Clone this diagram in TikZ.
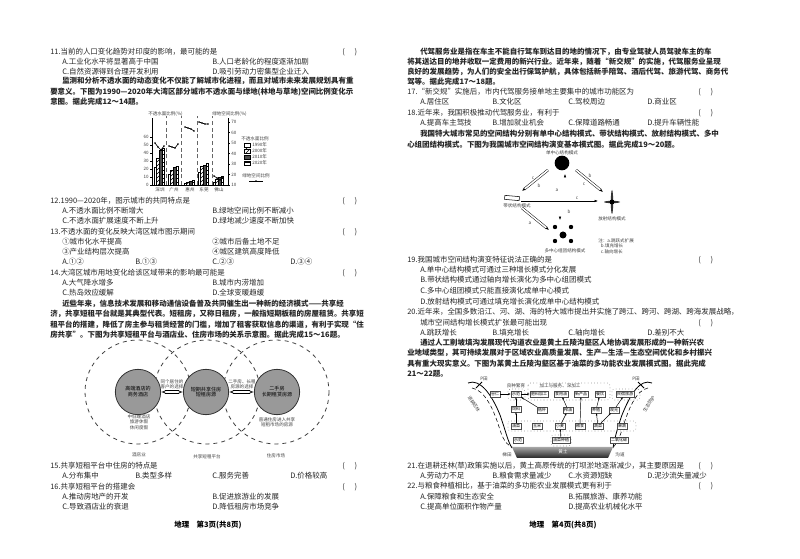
\documentclass[tikz,border=0pt]{standalone}
\usepackage{fontspec}
\newfontfamily\cjk{Noto Sans CJK SC}
\usetikzlibrary{patterns,arrows.meta,calc}
\tikzset{
 tx/.style={anchor=west,inner sep=0pt,font=\cjk\fontsize{5.6}{7}\selectfont,text=black!85},
 ps/.style={tx,font=\cjk\bfseries\fontsize{5.6}{7}\selectfont},
 sm/.style={inner sep=0pt,font=\cjk\fontsize{3.4}{4}\selectfont,text=black!75,align=center},
 ft/.style={inner sep=0pt,font=\cjk\bfseries\fontsize{5.6}{7}\selectfont},
 bx/.style={draw=black!70,line width=0.3pt,inner sep=0.7pt,font=\cjk\fontsize{3}{3.6}\selectfont,fill=white},
 grp/.style={draw=black!60,dotted,rounded corners=2pt,line width=0.4pt},
 vc/.style={draw=black!75,dashed,line width=0.6pt},
 gc/.style={draw=black!80,fill=black!40,line width=0.6pt},
 dar/.style={double,double distance=1.2pt,line width=0.35pt,-{Latex[length=2.5pt]}},
 yA/.style={fill=white}, yB/.style={pattern=north east lines}, yC/.style={fill=black!70}, yD/.style={pattern=horizontal lines},
}
\newcommand{\Ln}[3]{\node[tx] at (#1,#2) {#3};}
\newcommand{\Ps}[3]{\node[ps] at (#1,#2) {#3};}
\newcommand{\Pq}[2]{\node[tx] at (#1,#2) {(\hspace{1.3em})};}
\begin{document}
\begin{tikzpicture}[x=0.75pt,y=-0.75pt]
\useasboundingbox (0,0) rectangle (800,559);
\fill[white] (0,0) rectangle (800,559);
% ---------- left column ----------
\Ln{50}{52}{11.当前的人口变化趋势对印度的影响，最可能的是}\Pq{342}{52}
\Ln{62}{62}{A.工业化水平将显著高于中国}\Ln{212}{62}{B.人口老龄化的程度逐渐加剧}
\Ln{62}{72}{C.自然资源得到合理开发利用}\Ln{212}{72}{D.吸引劳动力密集型企业迁入}
\Ps{62}{81}{监测和分析不透水面的动态变化不仅能了解城市化进程，而且对城市未来发展规划具有重}
\Ps{50}{92}{要意义。下图为1990—2020年大湾区部分城市不透水面与绿地(林地与草地)空间比例变化示}
\Ps{50}{102}{意图。据此完成12～14题。}
% chart
\draw[line width=0.4pt] (152,185) -- (152,118);
\draw[line width=0.4pt] (228,185) -- (228,118);
\draw[line width=0.4pt] (152,185) -- (228,185);
\node[sm,anchor=east] at (183,114) {不透水面比例(\%)};
\node[sm,anchor=west] at (212,114) {绿地空间比例(\%)};
\foreach \v in {0,10,...,60}{
 \draw[line width=0.3pt] (152,{185-\v*0.8}) -- (150,{185-\v*0.8});
 \node[sm,anchor=east] at (149,{185-\v*0.8}) {\v};}
\foreach \v in {10,20,...,70}{
 \draw[line width=0.3pt] (228,{185-(\v-10)*1.05}) -- (230,{185-(\v-10)*1.05});
 \node[sm,anchor=west] at (231,{185-(\v-10)*1.05}) {\v};}
\foreach \x in {166,181,197,212}{\draw[densely dashed,line width=0.3pt,black!60] (\x,185) -- (\x,116);}
\foreach \gx/\a/\b/\c/\d/\nm in {154/22/33/44/46/深圳,168/14/18/22/24/广州,184/2/4/5/6/惠州,198/16/23/25/27/东莞,213/3/7/10/11/佛山}{
 \draw[line width=0.3pt,yA] (\gx,185) rectangle ++(2.6,{-\a*0.8});
 \draw[line width=0.3pt,yB] (\gx+2.6,185) rectangle ++(2.6,{-\b*0.8});
 \draw[line width=0.3pt,yC] (\gx+5.2,185) rectangle ++(2.6,{-\c*0.8});
 \draw[line width=0.3pt,yD] (\gx+7.8,185) rectangle ++(2.6,{-\d*0.8});
 \node[sm] at (\gx+6,190) {\nm};}
\foreach \gx/\p/\q/\r/\s in {154/143/147/150/146,168/146/147/148/144,184/127/128/129/131,198/122/123/124/124,213/176/178/180/177}{
 \draw[line width=0.5pt] (\gx+1,\p) -- (\gx+4,\q) -- (\gx+7,\r) -- (\gx+10,\s);
 \foreach \xx/\yy in {1/\p,4/\q,7/\r,10/\s}{\fill (\gx+\xx,\yy) circle (0.9);}}
\node[sm] at (255,139) {不透水面比例};
\foreach \yy/\lb/\st in {145/1990年/yA,151/2000年/yB,157/2010年/yC,163/2020年/yD}{
 \draw[line width=0.3pt,\st] (244,\yy-2) rectangle (250,\yy+2);
 \node[sm,anchor=west] at (252,\yy) {\lb};}
\node[sm] at (256,176) {绿地空间比例};
\draw[line width=0.5pt] (249,181) -- (263,181); \fill (256,181) circle (0.9);
\Ln{50}{201}{12.1990—2020年，图示城市的共同特点是}\Pq{342}{201}
\Ln{62}{211}{A.不透水面比例不断增大}\Ln{212}{211}{B.绿地空间比例不断减小}
\Ln{62}{221}{C.不透水面扩展速度不断上升}\Ln{212}{221}{D.绿地减少速度不断加快}
\Ln{50}{232}{13.不透水面的变化反映大湾区城市图示期间}\Pq{342}{232}
\Ln{62}{242}{①城市化水平提高}\Ln{212}{242}{②城市后备土地不足}
\Ln{62}{252}{③产业结构层次提高}\Ln{212}{252}{④城区建筑高度降低}
\Ln{62}{262}{A.①②}\Ln{135}{262}{B.①③}\Ln{212}{262}{C.②③}\Ln{290}{262}{D.③④}
\Ln{50}{273}{14.大湾区城市用地变化给该区域带来的影响最可能是}\Pq{342}{273}
\Ln{62}{283}{A.大气降水增多}\Ln{212}{283}{B.城市内涝增加}
\Ln{62}{293}{C.热岛效应缓解}\Ln{212}{293}{D.全球变暖趋缓}
\Ps{62}{304}{近些年来，信息技术发展和移动通信设备普及共同催生出一种新的经济模式——共享经}
\Ps{50}{314}{济，共享短租平台就是其典型代表。短租房，又称日租房，一般指短期板租的房屋租赁。共享短}
\Ps{50}{325}{租平台的搭建，降低了房主参与租赁经营的门槛，增加了租客获取信息的渠道，有利于实现“住}
\Ps{50}{335}{房共享”。下图为共享短租平台与酒店业、住房市场的关系示意图。据此完成15～16题。}
% venn
\draw[vc] (138,392) ellipse (53 and 52);
\draw[vc] (207,392) ellipse (53 and 52);
\draw[vc] (276,392) ellipse (53 and 52);
\node[gc,circle,minimum size=34,sm,font=\cjk\fontsize{3.8}{4.4}\selectfont,text=black] (g1) at (138,392) {高端酒店的\\商务酒店};
\node[gc,circle,minimum size=34,sm,font=\cjk\fontsize{3.8}{4.4}\selectfont,text=black] (g2) at (206,392) {短期共享住房\\短租房源};
\node[gc,circle,minimum size=34,sm,font=\cjk\fontsize{3.8}{4.4}\selectfont,text=black] (g3) at (277,392) {二手房\\长期租赁房源};
\draw[double,double distance=1.6pt,line width=0.4pt,{Latex[open,length=3pt]}-{Latex[open,length=3pt]}] (g1) -- (g2);
\draw[double,double distance=1.6pt,line width=0.4pt,{Latex[open,length=3pt]}-{Latex[open,length=3pt]}] (g2) -- (g3);
\node[sm] at (172,384) {同个居住的\\客户的选择};
\node[sm] at (242,384) {二手房、长租\\房源的选择};
\node[sm] at (139,422) {中低端酒店\\旅游休假\\休闲度假};
\node[sm] at (277,422) {普通住房进入共享\\短租市场的房源};
\node[sm] at (139,455) {酒店业};
\node[sm] at (207,457) {共享短租平台};
\node[sm] at (276,456) {住房市场};
\Ln{50}{466}{15.共享短租平台中住房的特点是}\Pq{342}{466}
\Ln{62}{476}{A.分布集中}\Ln{135}{476}{B.类型多样}\Ln{212}{476}{C.服务完善}\Ln{290}{476}{D.价格较高}
\Ln{50}{487}{16.共享短租平台的搭建会}\Pq{342}{487}
\Ln{62}{497}{A.推动房地产的开发}\Ln{212}{497}{B.促进旅游业的发展}
\Ln{62}{507}{C.导致酒店业的衰退}\Ln{212}{507}{D.降低租房市场竞争}
\node[ft] at (208,525) {地理\quad 第3页(共8页)};
% ---------- right column ----------
\Ps{420}{52}{代驾服务业是指在车主不能自行驾车到达目的地的情况下，由专业驾驶人员驾驶车主的车}
\Ps{407}{62}{将其送达目的地并收取一定费用的新兴行业。近年来，随着“新交规”的实施，代驾服务业呈现}
\Ps{407}{72}{良好的发展趋势，为人们的安全出行保驾护航，具体包括新手陪驾、酒后代驾、旅游代驾、商务代}
\Ps{407}{82}{驾等。据此完成17～18题。}
\Ln{407}{92}{17.“新交规”实施后，市内代驾服务接单地主要集中的城市功能区为}\Pq{698}{92}
\Ln{420}{102}{A.居住区}\Ln{492}{102}{B.文化区}\Ln{568}{102}{C.驾校周边}\Ln{647}{102}{D.商业区}
\Ln{407}{113}{18.近年来，我国积极推动代驾服务业，有利于}\Pq{698}{113}
\Ln{420}{123}{A.提高车主驾技}\Ln{492}{123}{B.增加就业机会}\Ln{568}{123}{C.保障道路畅通}\Ln{647}{123}{D.提升车辆性能}
\Ps{420}{134}{我国特大城市常见的空间结构分别有单中心结构模式、带状结构模式、放射结构模式、多中}
\Ps{407}{145}{心组团结构模式。下图为我国城市空间结构演变基本模式图。据此完成19～20题。}
% structure diagram
\node[sm] at (562,153) {单中心结构模式};
\node[circle,fill=black,minimum size=11pt,inner sep=0] (mono) at (562,163) {};
\node[draw,line width=0.4pt,minimum width=11pt,minimum height=3pt,inner sep=0,rotate=-5] (band) at (512,198) {};
\node[sm] at (517,206) {带状结构模式};
\coordinate (rad) at (612,202);
\fill[black!80] (rad) ellipse (8 and 1.2); \fill[black!80] (rad) ellipse (1.2 and 12);
\fill (rad) circle (2.5);
\node[sm] at (612,219) {放射结构模式};
\coordinate (multi) at (563,235);
\fill (multi) circle (3.5);
\foreach \dx/\dy in {-8/-8,8/-8,-8/6,8/6}{\fill ($(multi)+(\dx,\dy)$) circle (2.2);}
\node[sm] at (565,251) {多中心组团结构模式};
\node[sm,align=left,anchor=west] at (598,246) {注：a.跳跃式扩展\\\hspace{0.6em}b.填充增长\\\hspace{0.6em}c.轴向增长};
\draw[dar] (548,170) -- (522,191); \draw[dar] (576,170) -- (603,192);
\draw[dar] (560,174) -- (560,220); \draw[dar] (565,220) -- (565,174);
\draw[line width=0.4pt,-{Latex[length=2.5pt]}] (521,201) -- (598,201);
\draw[dar] (522,208) -- (549,230);
\node[sm] at (533,178) {c}; \node[sm] at (539,186) {b}; \node[sm] at (557,190) {a};
\node[sm] at (590,176) {b}; \node[sm] at (584,184) {c}; \node[sm] at (569,212) {b};
\node[sm] at (577,198) {c}; \node[sm] at (530,223) {a};
\Ln{407}{260}{19.我国城市空间结构演变特征说法正确的是}\Pq{698}{260}
\Ln{420}{270}{A.单中心结构模式可通过三种增长模式分化发展}
\Ln{420}{280}{B.带状结构模式通过轴向增长演化为多中心组团模式}
\Ln{420}{291}{C.多中心组团模式只能直接演化成单中心模式}
\Ln{420}{302}{D.放射结构模式可通过填充增长演化成单中心结构模式}
\Ln{407}{312}{20.近年来，全国多数沿江、河、湖、海的特大城市提出并实施了跨江、跨河、跨湖、跨海发展战略，}
\Ln{420}{323}{城市空间结构增长模式扩张最可能出现}\Pq{698}{323}
\Ln{420}{333}{A.跳跃增长}\Ln{492}{333}{B.填充增长}\Ln{568}{333}{C.轴向增长}\Ln{647}{333}{D.差别不大}
\Ps{420}{343}{通过人工削坡填沟发展现代沟道农业是黄土丘陵沟壑区人地协调发展形成的一种新兴农}
\Ps{407}{353}{业地域类型，其可持续发展对于区域农业高质量发展、生产—生活—生态空间优化和乡村振兴}
\Ps{407}{364}{具有重大现实意义。下图为某黄土丘陵沟壑区基于油菜的多功能农业发展模式图。据此完成}
\Ps{407}{374}{21～22题。}
% agriculture diagram
\draw[line width=0.6pt] (468,383) .. controls (480,378) and (492,395) .. (500,415) .. controls (506,432) and (508,442) .. (512,448);
\draw[line width=0.6pt] (652,383) .. controls (640,378) and (630,395) .. (622,415) .. controls (616,432) and (614,442) .. (613,448);
\draw[densely dashed,line width=0.4pt] (472,388) .. controls (485,390) and (494,410) .. (500,430) .. controls (504,442) and (508,446) .. (514,448);
\draw[densely dashed,line width=0.4pt] (648,388) .. controls (636,390) and (628,410) .. (622,430) .. controls (618,442) and (615,446) .. (612,448);
\draw[line width=0.6pt] (476,388) -- (482,382); \node[sm] at (484,379) {P田};
\draw[line width=0.6pt] (644,388) -- (638,382); \node[sm] at (636,379) {P田};
\node[sm,rotate=-58] at (474,404) {退耕还林};
\node[sm,rotate=58] at (649,404) {生态防护};
\shade[top color=black!35,bottom color=black!85] (512,447) -- (613,447) -- (608,458) -- (517,458) -- cycle;
\node[sm,text=white] at (563,452) {黄土};
\node[sm] at (507,455) {梯田}; \node[sm] at (620,455) {沟道};
\draw[grp] (508,389) rectangle (525,400); \node[sm] at (516,386) {良种繁育};
\draw[grp] (528,383) rectangle (610,400); \node[sm] at (560,386) {加工与服务、深加工};
\draw[grp] (612,389) rectangle (640,400);
\draw[grp] (508,421) rectangle (636,431);
\draw[grp] (551,435) rectangle (571,446);
\node[bx] (r1a) at (495,394) {谷仁};
\node[bx] (r1b) at (516,394) {示范};
\node[bx] (r1c) at (539,394) {肥料加工};
\node[bx] (r1d) at (561,394) {食用油};
\node[bx] (r1e) at (581,394) {新产品};
\node[bx] (r1f) at (600,394) {餐饮};
\node[bx] (r1g) at (625,394) {民宿旅游};
\node[bx] (r2a) at (516,409) {饲料};
\node[bx] (r2b) at (542,410) {秸秆};
\node[bx] (r2c) at (568,410) {榨油};
\node[bx] (r2d) at (596,410) {养殖};
\node[bx] (r2e) at (614,410) {观光};
\node[bx] (r3a) at (516,426) {油菜};
\node[bx] (r3b) at (537,426) {玉米};
\node[bx] (r3c) at (560,426) {小麦};
\node[bx] (r3d) at (580,426) {粮食};
\node[bx] (r3e) at (598,426) {蔬菜};
\node[bx] (r3f) at (622,426) {果蔬};
\node[bx] (r4a) at (518,440) {示范};
\node[bx] (r4b) at (561,440) {油菜种植};
\node[bx] (r4c) at (619,440) {二氧化碳};
\foreach \a/\b in {r1a/r1b,r1b/r1c,r2a/r1b,r3a/r2a,r2b/r1b,r3c/r2c,r2c/r1d,r3d/r1e,r3e/r2d,r2d/r1f,r2e/r1g,r3e/r2e,r4b/r3c}{\draw[line width=0.35pt,-{Latex[length=1.8pt]}] (\a) -- (\b);}
\Ln{407}{466}{21.在退耕还林(草)政策实施以后，黄土高原传统的打坝淤地逐渐减少，其主要原因是}\Pq{698}{466}
\Ln{420}{476}{A.劳动力不足}\Ln{492}{476}{B.粮食需求量减少}\Ln{568}{476}{C.水资源短缺}\Ln{647}{476}{D.泥沙流失量减少}
\Ln{407}{486}{22.与粮食种植相比，基于油菜的多功能农业发展模式更有利于}\Pq{698}{486}
\Ln{420}{497}{A.保障粮食和生态安全}\Ln{568}{497}{B.拓展旅游、康养功能}
\Ln{420}{507}{C.提高单位面积作物产量}\Ln{568}{507}{D.提高农业机械化水平}
\node[ft] at (563,525) {地理\quad 第4页(共8页)};
\end{tikzpicture}
\end{document}
